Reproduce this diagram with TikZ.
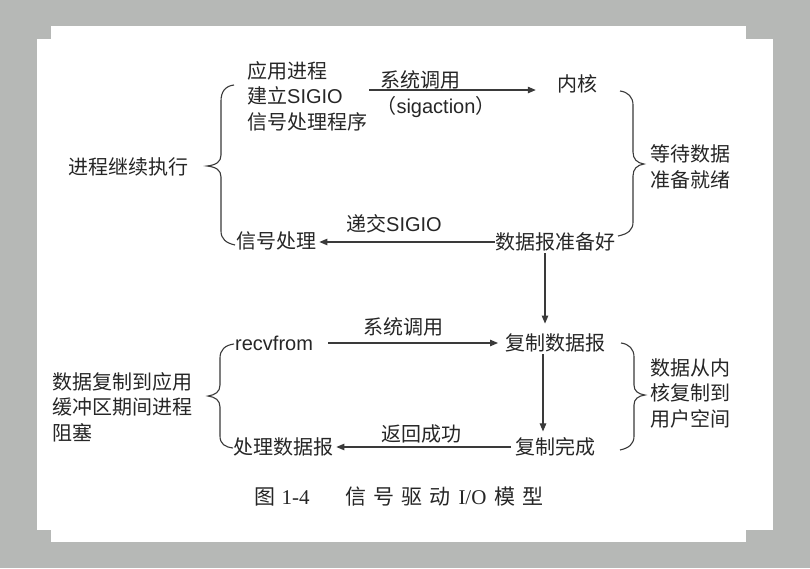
\documentclass[tikz,border=0pt]{standalone}
\usepackage{fontspec}
\setmainfont{Liberation Sans}
\newfontfamily\cjk{Noto Sans CJK SC}
\newfontfamily\lat{Liberation Sans}
\newfontfamily\capserif{Liberation Serif}
\usetikzlibrary{arrows.meta}
\definecolor{bggray}{HTML}{B6B8B6}
\definecolor{ink}{HTML}{262626}
\definecolor{lineink}{HTML}{3A3A3A}
\tikzset{
  txt/.style={inner sep=0pt, text=ink, font=\cjk\fontsize{20}{25.5}\selectfont, align=left},
  conn/.style={draw=lineink, line width=1.1pt, -{Triangle[length=8pt,width=6.5pt]}},
  brace/.style={draw=lineink, line width=1.1pt},
}
\begin{document}
\begin{tikzpicture}[x=1pt,y=-1pt]
\useasboundingbox (0,0) rectangle (810,568);
\fill[bggray] (0,0) rectangle (810,568);
\fill[white] (51,26) rectangle (746,542);
\fill[white] (37,39) rectangle (773,530);

% ---- upper part ----
\node[txt, anchor=west] (app) at (247,96) {应用进程\\建立{\lat SIGIO}\\信号处理程序};
\node[txt] (kernel) at (577,84) {内核};
\node[txt] (sys1) at (420,80) {系统调用};
\node[txt] (sigact) at (436,107) {（{\lat sigaction}）};
\coordinate (k1) at ([xshift=-21pt]kernel.west);
\draw[conn] ([xshift=2pt,yshift=6pt]app.east) -- ([yshift=6pt]app.east -| k1);

\node[txt, anchor=west] (cont) at (68,167) {进程继续执行};
\node[txt, anchor=west] (wait) at (650,167) {等待数据\\准备就绪};

\node[txt, anchor=west] (sighandle) at (236,241) {信号处理};
\node[txt, anchor=west] (ready) at (495,242) {数据报准备好};
\node[txt] (deliver) at (394,224) {递交{\lat SIGIO}};
\draw[conn] (ready.west) -- ([xshift=3pt]sighandle.east |- ready.west);

% upper braces
\draw[brace] (234,85) .. controls (225,86) and (221,92) .. (221,101) -- (221,155)
  .. controls (221,162) and (216,165) .. (207,166)
  .. controls (216,167) and (221,170) .. (221,177) -- (221,231)
  .. controls (221,239) and (226,243) .. (235,245);
\draw[brace] (620,91) .. controls (628,92) and (633,97) .. (633,105) -- (633,152)
  .. controls (633,159) and (637,163) .. (644,164)
  .. controls (637,165) and (633,169) .. (633,176) -- (633,222)
  .. controls (633,230) and (628,234) .. (618,236);

% ---- lower part ----
\node[txt, anchor=west] (recv) at (235,343) {\lat recvfrom};
\node[txt, anchor=west] (copy) at (505,343) {复制数据报};
\node[txt] (sys2) at (403,327) {系统调用};
\draw[conn] ([xshift=15pt]recv.east) -- ([xshift=-7pt]copy.west);
\coordinate (c1) at ([yshift=10pt]copy.north -| 545,0);
\draw[conn] ([yshift=-2pt]ready.south -| 545,0) -- (c1);

\node[txt, anchor=west] (done) at (515,447) {复制完成};
\node[txt, anchor=west] (process) at (233,447) {处理数据报};
\node[txt] (ret) at (421,434) {返回成功};
\coordinate (d1) at ([yshift=6pt]done.north -| 543,0);
\draw[conn] ([yshift=-2pt]copy.south -| 543,0) -- (d1);
\draw[conn] ([xshift=-4pt]done.west) -- ([xshift=3pt]process.east);

\node[txt, anchor=west] (blocked) at (52,407) {数据复制到应用\\缓冲区期间进程\\阻塞};
\node[txt, anchor=west] (kcopy) at (650,393) {数据从内\\核复制到\\用户空间};

% lower braces
\draw[brace] (234,344) .. controls (225,345) and (220,350) .. (220,358) -- (220,385)
  .. controls (220,392) and (215,395) .. (208,396)
  .. controls (215,397) and (220,400) .. (220,407) -- (220,436)
  .. controls (220,444) and (225,447) .. (233,448);
\draw[brace] (621,343) .. controls (629,344) and (634,349) .. (634,357) -- (634,385)
  .. controls (634,391) and (638,394) .. (645,395)
  .. controls (638,396) and (634,399) .. (634,405) -- (634,436)
  .. controls (634,444) and (629,448) .. (620,450);

% caption
\node[inner sep=0pt, text=ink, font=\cjk\fontsize{21}{24}\selectfont] (caption) at (399,497)
  {图\hspace{6pt}{\capserif 1-4}\hspace{36pt}信\hspace{7pt}号\hspace{7pt}驱\hspace{7pt}动\hspace{8pt}{\capserif I/O}\hspace{8pt}模\hspace{7pt}型};
\end{tikzpicture}
\end{document}
